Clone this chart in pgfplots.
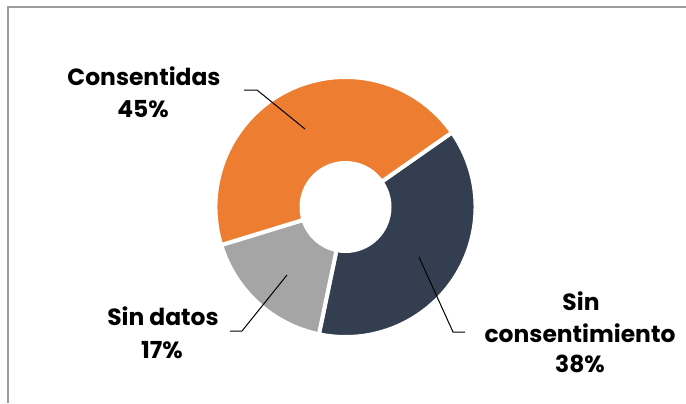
\documentclass[border=0pt]{standalone}
\usepackage{fontspec}
\setmainfont{Poppins}
\usepackage{pgfplots}
\usepackage{pgfplotstable}
\pgfplotsset{compat=1.18}

\definecolor{sliceorange}{HTML}{ED7D31}
\definecolor{sliceslate}{HTML}{333F50}
\definecolor{slicegray}{HTML}{A5A5A5}
\definecolor{framegray}{HTML}{9C9C9C}

% shares in clockwise order, starting at 35 degrees
\pgfplotstableread{
name value
SinConsentimiento 38
SinDatos 17
Consentidas 45
}\donutdata

\begin{document}
\begin{tikzpicture}
\pgfplotstablegetelem{0}{value}\of\donutdata \let\vA\pgfplotsretval
\pgfplotstablegetelem{1}{value}\of\donutdata \let\vB\pgfplotsretval
\pgfplotstablegetelem{2}{value}\of\donutdata \let\vC\pgfplotsretval
\pgfmathsetmacro\aA{35}
\pgfmathsetmacro\aB{\aA-3.6*\vA}
\pgfmathsetmacro\aC{\aB-3.6*\vB}
\pgfmathsetmacro\aD{\aC-3.6*\vC}
\def\Ro{130bp}
\def\Ri{44bp}
\begin{axis}[
    x=1bp, y=1bp,
    xmin=0, xmax=686, ymin=0, ymax=403,
    hide axis, clip=false,
]
\coordinate (bbll) at (axis cs:0,0);
\coordinate (bbur) at (axis cs:686,403);
% frame
\draw[framegray, line width=2bp] (axis cs:7.5,0) -- (axis cs:7.5,395.5) -- (axis cs:686,395.5);

\coordinate (c) at (axis cs:345.5,196);
\fill[sliceslate, draw=white, line width=4bp]
  ([shift={(\aA:\Ro)}]c) arc[start angle=\aA, end angle=\aB, radius=\Ro]
  -- ([shift={(\aB:\Ri)}]c) arc[start angle=\aB, end angle=\aA, radius=\Ri] -- cycle;
\fill[slicegray, draw=white, line width=4bp]
  ([shift={(\aB:\Ro)}]c) arc[start angle=\aB, end angle=\aC, radius=\Ro]
  -- ([shift={(\aC:\Ri)}]c) arc[start angle=\aC, end angle=\aB, radius=\Ri] -- cycle;
\fill[sliceorange, draw=white, line width=4bp]
  ([shift={(\aC:\Ro)}]c) arc[start angle=\aC, end angle=\aD, radius=\Ro]
  -- ([shift={(\aD:\Ri)}]c) arc[start angle=\aD, end angle=\aC, radius=\Ri] -- cycle;

% leader lines
\draw[black, line width=1bp] (axis cs:244,313) -- (axis cs:257,313) -- (axis cs:305,274);
\draw[black, line width=1bp] (axis cs:230,72) -- (axis cs:242,72) -- (axis cs:287,128);
\draw[black, line width=1bp] (axis cs:419,146) -- (axis cs:453,71) -- (axis cs:465,71);

% labels
\begin{scope}[every node/.style={anchor=base, inner sep=0pt, font=\fontsize{23.5}{28}\selectfont\bfseries}]
\node at (axis cs:144,318) {Consentidas};
\node at (axis cs:143,286) {45\%};
\node at (axis cs:163,78) {Sin datos};
\node at (axis cs:162,45) {17\%};
\node at (axis cs:581,93) {Sin};
\node at (axis cs:580,61) {consentimiento};
\node at (axis cs:580,31) {38\%};
\end{scope}
\end{axis}
\pgfresetboundingbox
\useasboundingbox (bbll) rectangle (bbur);
\end{tikzpicture}
\end{document}
